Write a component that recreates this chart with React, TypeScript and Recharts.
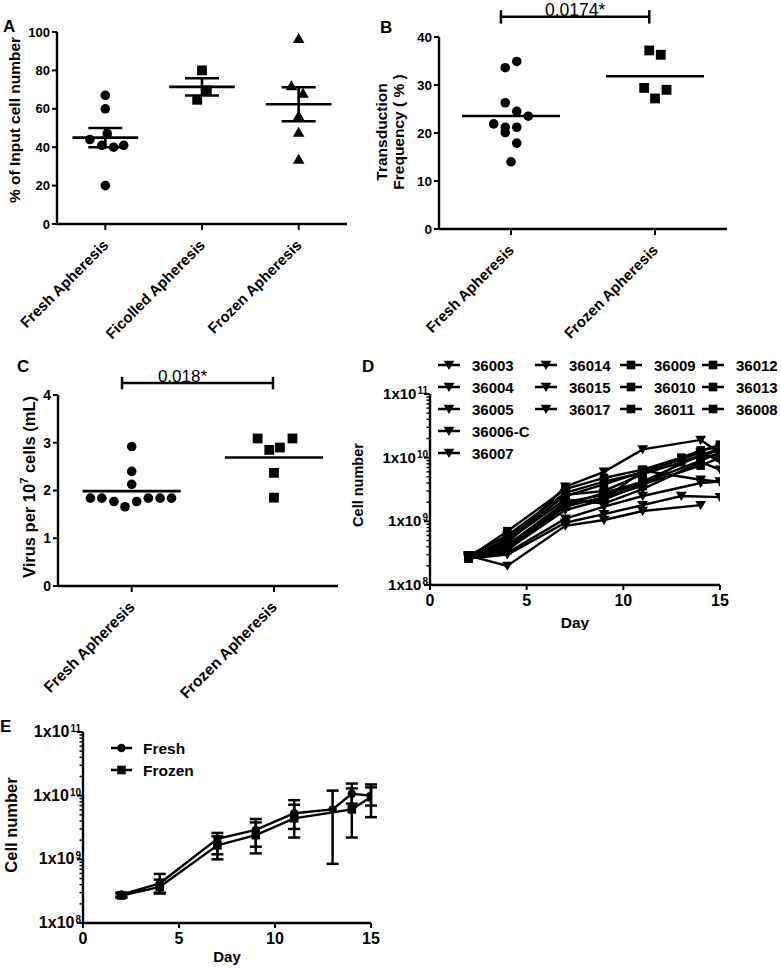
import React from 'react';
import {
  ScatterChart,
  Scatter,
  LineChart,
  Line,
  XAxis,
  YAxis,
  ReferenceLine,
  ErrorBar,
  Legend,
} from 'recharts';

const FONT = '"Liberation Sans", Arial, Helvetica, sans-serif';
const INK = '#000000';

// ---------------- Panel A ----------------
const aCategories = ['Fresh Apheresis', 'Ficolled Apheresis', 'Frozen Apheresis'];
const aFresh = [67, 60, 47, 44, 41, 40, 41, 20];
const aFreshJitter = [0, 0, 0.02, -0.16, -0.035, 0.086, 0.19, 0];
const aFicolled = [80, 69.6, 64.7];
const aFicolledJitter = [0, 0.05, -0.05];
const aFrozen = [96.5, 72, 68, 56.3, 47.7, 33.7];
const aFrozenJitter = [0, -0.075, 0.045, 0, 0, 0];
const aTicks = [0, 20, 40, 60, 80, 100];

// ---------------- Panel B ----------------
const bCategories = ['Fresh Apheresis', 'Frozen Apheresis'];
const bFresh = [34.9, 33.6, 26.3, 24.5, 23.5, 21.9, 21.2, 21.2, 20.1, 17.9, 14.0];
const bFreshJitter = [0.04, -0.04, -0.04, 0.04, 0.12, -0.12, -0.04, 0.04, -0.04, 0.04, 0];
const bFrozen = [37.2, 36.3, 29.4, 29.0, 27.2];
const bFrozenJitter = [-0.04, 0.04, -0.075, 0.08, 0];
const bTicks = [0, 10, 20, 30, 40];
const bPValue = '0.0174*';

// ---------------- Panel C ----------------
const cCategories = ['Fresh Apheresis', 'Frozen Apheresis'];
const cFresh = [2.92, 2.4, 2.13, 1.84, 1.84, 1.77, 1.66, 1.77, 1.84, 1.84, 1.84];
const cFreshJitter = [0, 0, 0, -0.29, -0.21, -0.125, -0.047, 0.035, 0.117, 0.2, 0.28];
const cFrozen = [3.09, 3.09, 2.85, 2.9, 2.37, 1.85];
const cFrozenJitter = [-0.115, 0.13, -0.033, 0.042, 0, 0];
const cTicks = [0, 1, 2, 3, 4];
const cPValue = '0.018*';

// ---------------- Panel D ----------------
const dDays = [2, 4, 7, 9, 11, 13, 14, 15];
const d36003 = [2.8e8, 4.5e8, 3.5e9, 6.0e9, 1.35e10, null, 1.9e10, 1.2e10];
const d36004 = [2.9e8, 2.0e8, 8.5e8, 1.05e9, 1.45e9, null, 1.8e9, null];
const d36005 = [2.6e8, 3.0e8, 9.5e8, 1.3e9, 1.8e9, 2.5e9, null, 2.4e9];
const d36006C = [2.7e8, 3.2e8, 1.1e9, 1.7e9, 2.5e9, null, 4.0e9, 4.2e9];
const d36007 = [2.8e8, 3.6e8, 1.5e9, 2.2e9, 6.3e9, null, 4.5e9, 4.2e9];
const d36014 = [2.6e8, 4.0e8, 1.8e9, 2.8e9, 4.2e9, null, 1.1e10, 1.3e10];
const d36015 = [2.7e8, 5.0e8, 2.2e9, 1.9e9, 3.2e9, null, 8.5e9, 6.5e9];
const d36017 = [2.9e8, 6.0e8, 2.8e9, 4.2e9, 5.8e9, null, 1.2e10, 9.0e9];
const d36009 = [2.7e8, 7.0e8, 3.2e9, 4.8e9, 6.5e9, 1.0e10, null, 1.6e10];
const d36010 = [2.6e8, 5.5e8, 2.5e9, 3.8e9, 6.0e9, null, 1.3e10, 1.5e10];
const d36011 = [2.8e8, 4.2e8, 2.0e9, 2.6e9, 4.0e9, null, 9.0e9, 1.2e10];
const d36012 = [2.6e8, 3.5e8, 1.7e9, 2.4e9, 3.6e9, 8.5e9, null, 1.4e10];
const d36013 = [2.9e8, 4.8e8, 2.6e9, 3.0e9, 5.5e9, null, 1.05e10, 1.1e10];
const d36008 = [2.7e8, 3.8e8, 1.9e9, 2.2e9, 3.8e9, null, 7.5e9, 1.0e10];
const dTriangleSeries = ['36003', '36004', '36005', '36006-C', '36007', '36014', '36015', '36017'];
const dSquareSeries = ['36009', '36010', '36011', '36012', '36013', '36008'];
const dSeriesValues: Record<string, (number | null)[]> = {
  '36003': d36003, '36004': d36004, '36005': d36005, '36006-C': d36006C, '36007': d36007,
  '36014': d36014, '36015': d36015, '36017': d36017, '36009': d36009, '36010': d36010,
  '36011': d36011, '36012': d36012, '36013': d36013, '36008': d36008,
};
const dLegendColumns = [
  ['36003', '36004', '36005', '36006-C', '36007'],
  ['36014', '36015', '36017'],
  ['36009', '36010', '36011'],
  ['36012', '36013', '36008'],
];

// ---------------- Panel E ----------------
const eDays = [2, 4, 7, 9, 11, 13, 14, 15];
const eFresh = [2.8e8, 4.2e8, 2.1e9, 2.9e9, 5.3e9, 6.1e9, 1.07e10, 1.0e10];
const eFreshLow = [2.6e8, 3.0e8, 1.2e9, 1.58e9, 3.0e9, 8.5e8, 7.5e9, 7.0e9];
const eFreshHigh = [3.0e8, 5.9e8, 2.6e9, 4.3e9, 8.5e9, 1.2e10, 1.55e10, 1.5e10];
const eFrozen = [2.7e8, 3.7e8, 1.66e9, 2.4e9, 4.4e9, null, 6.1e9, 9.5e9];
const eFrozenLow = [2.5e8, 2.9e8, 1.0e9, 1.24e9, 2.2e9, null, 2.2e9, 4.6e9];
const eFrozenHigh = [2.9e8, 4.8e8, 2.3e9, 3.8e9, 7.2e9, null, 1.3e10, 1.35e10];
const eSeriesNames = ['Fresh', 'Frozen'];

// shared axes values
const dayTicks = [0, 5, 10, 15];
const logMajor = [1e8, 1e9, 1e10, 1e11];
const logTicks = logMajor.flatMap((d, i) =>
  i < logMajor.length - 1 ? [1, 2, 3, 4, 5, 6, 7, 8, 9].map((m) => m * d) : [d]
);

// ---------------- helpers ----------------
const mean = (v: number[]) => v.reduce((s, x) => s + x, 0) / v.length;
const sem = (v: number[]) => {
  const m = mean(v);
  const sd = Math.sqrt(v.reduce((s, x) => s + (x - m) ** 2, 0) / (v.length - 1));
  return sd / Math.sqrt(v.length);
};
const jittered = (vals: number[], jit: number[], pos: number) =>
  vals.map((y, i) => ({ x: pos + jit[i], y }));

const AXIS_LINE = { stroke: INK, strokeWidth: 2.4 };
const TICK_LINE = { stroke: INK, strokeWidth: 2 };
const tickText = (size: number) => ({ fill: INK, fontSize: size, fontWeight: 'bold', fontFamily: FONT });

const DotShape = (p: any) => <circle cx={p.cx} cy={p.cy} r={4.8} fill={INK} />;
const SquareShape = (p: any) => (
  <rect x={p.cx - 4.9} y={p.cy - 4.9} width={9.8} height={9.8} fill={INK} />
);
const TriUpShape = (p: any) => (
  <path d={`M${p.cx},${p.cy - 5.6}L${p.cx + 5.8},${p.cy + 4.4}L${p.cx - 5.8},${p.cy + 4.4}Z`} fill={INK} />
);
const TriDownShape = (p: any) => (
  <path d={`M${p.cx},${p.cy + 5}L${p.cx + 5.4},${p.cy - 4.2}L${p.cx - 5.4},${p.cy - 4.2}Z`} fill={INK} />
);
const SmallSquare = (p: any) => (
  <rect x={p.cx - 4.3} y={p.cy - 4.3} width={8.6} height={8.6} fill={INK} />
);
const SmallDot = (p: any) => <circle cx={p.cx} cy={p.cy} r={4.2} fill={INK} />;

function vTitle(parts: { content: React.ReactNode; x: number }[], fontSize: number, dy: number) {
  return (props: any) => {
    const vb = props.viewBox || { x: 0, y: 0, width: 0, height: 0 };
    const cy = vb.y + vb.height / 2 + dy;
    return (
      <g>
        {parts.map((p, i) => {
          const x = vb.x + p.x;
          return (
            <text key={i} x={x} y={cy} transform={`rotate(-90 ${x} ${cy})`} textAnchor="middle"
              fontSize={fontSize} fontWeight="bold" fontFamily={FONT} fill={INK}>
              {p.content}
            </text>
          );
        })}
      </g>
    );
  };
}

function hTitle(text: string, dy: number, fontSize: number) {
  return (props: any) => {
    const vb = props.viewBox || { x: 0, y: 0, width: 0, height: 0 };
    return (
      <text x={vb.x + vb.width / 2} y={vb.y + dy} textAnchor="middle" fontSize={fontSize}
        fontWeight="bold" fontFamily={FONT} fill={INK}>
        {text}
      </text>
    );
  };
}

function categoryTick(labels: string[], fontSize: number) {
  return (props: any) => {
    const { x, y, payload } = props;
    const label = labels[Math.round(Number(payload.value)) - 1] ?? '';
    return (
      <g transform={`translate(${x + 4},${y + 14}) rotate(-45)`}>
        <text x={0} y={0} textAnchor="end" fontSize={fontSize} fontWeight="bold" fontFamily={FONT} fill={INK}>
          {label}
        </text>
      </g>
    );
  };
}

function logTick(fontSize: number, supSize: number) {
  return (props: any) => {
    const { x, y, payload } = props;
    const v = Number(payload.value);
    const e = Math.log10(v);
    const major = Math.abs(e - Math.round(e)) < 1e-6;
    return (
      <g>
        <line x1={x} x2={x - (major ? 6 : 3.5)} y1={y} y2={y} stroke={INK} strokeWidth={major ? 2 : 1.5} />
        {major && (
          <text x={x - 2} y={y + 5} textAnchor="end" fontSize={fontSize} fontWeight="bold" fontFamily={FONT} fill={INK}>
            1x10
            <tspan dx={1} dy={-5} fontSize={supSize}>{Math.round(e)}</tspan>
          </text>
        )}
      </g>
    );
  };
}

function meanLines(vals: number[], pos: number, half: number, withSem: boolean, cap: number, keyBase: string) {
  const m = mean(vals);
  const out = [
    <ReferenceLine key={`${keyBase}-m`} segment={[{ x: pos - half, y: m }, { x: pos + half, y: m }]}
      stroke={INK} strokeWidth={2.6} ifOverflow="visible" />,
  ];
  if (withSem) {
    const s = sem(vals);
    out.push(
      <ReferenceLine key={`${keyBase}-v`} segment={[{ x: pos, y: m - s }, { x: pos, y: m + s }]}
        stroke={INK} strokeWidth={2.6} ifOverflow="visible" />,
      <ReferenceLine key={`${keyBase}-t`} segment={[{ x: pos - cap, y: m + s }, { x: pos + cap, y: m + s }]}
        stroke={INK} strokeWidth={2.6} ifOverflow="visible" />,
      <ReferenceLine key={`${keyBase}-b`} segment={[{ x: pos - cap, y: m - s }, { x: pos + cap, y: m - s }]}
        stroke={INK} strokeWidth={2.6} ifOverflow="visible" />
    );
  }
  return out;
}

function sigBar(x1: number, x2: number, y: number, capH: number, text: string, fontSize: number, dx: number, keyBase: string) {
  return [
    <ReferenceLine key={`${keyBase}-h`} segment={[{ x: x1, y }, { x: x2, y }]} stroke={INK} strokeWidth={2.5}
      ifOverflow="visible"
      label={{ value: text, position: 'top', offset: 1, dx, fill: INK, fontSize, fontFamily: FONT }} />,
    <ReferenceLine key={`${keyBase}-l`} segment={[{ x: x1, y: y - capH }, { x: x1, y: y + capH }]}
      stroke={INK} strokeWidth={2.5} ifOverflow="visible" />,
    <ReferenceLine key={`${keyBase}-r`} segment={[{ x: x2, y: y - capH }, { x: x2, y: y + capH }]}
      stroke={INK} strokeWidth={2.5} ifOverflow="visible" />,
  ];
}

const seriesPoints = (vals: (number | null)[]) =>
  dDays.map((x, i) => ({ x, y: vals[i] })).filter((p) => p.y != null);

const eSeriesData = (vals: (number | null)[], low: (number | null)[], high: (number | null)[]) =>
  eDays
    .map((x, i) => {
      const v = vals[i];
      if (v == null) return null;
      return { x, y: v, err: [v - (low[i] as number), (high[i] as number) - v] };
    })
    .filter((p) => p != null);

const dLegendColX = [0, 97, 182, 264];
const renderDLegend = () => (
  <svg width={340} height={112} style={{ display: 'block', overflow: 'visible' }}>
    {dLegendColumns.map((col, ci) =>
      col.map((name, ri) => {
        const x0 = dLegendColX[ci];
        const y = 11 + ri * 22;
        const Shape = dSquareSeries.includes(name) ? SmallSquare : TriDownShape;
        return (
          <g key={name}>
            <line x1={x0} x2={x0 + 22} y1={y} y2={y} stroke={INK} strokeWidth={2.5} />
            <Shape cx={x0 + 11} cy={y} />
            <text x={x0 + 34} y={y + 5.5} fontSize={15} fontWeight="bold" fontFamily={FONT} fill={INK}>
              {name}
            </text>
          </g>
        );
      })
    )}
  </svg>
);

const renderELegend = () => (
  <svg width={120} height={50} style={{ display: 'block', overflow: 'visible' }}>
    {eSeriesNames.map((name, ri) => {
      const y = 11 + ri * 22;
      const Shape = ri === 0 ? SmallDot : SmallSquare;
      return (
        <g key={name}>
          <line x1={0} x2={21} y1={y} y2={y} stroke={INK} strokeWidth={2.5} />
          <Shape cx={10.5} cy={y} />
          <text x={32} y={y + 5.5} fontSize={15.5} fontWeight="bold" fontFamily={FONT} fill={INK}>
            {name}
          </text>
        </g>
      );
    })}
  </svg>
);

function PanelA() {
  return (
    <ScatterChart width={390} height={348} margin={{ top: 32, right: 43, bottom: 0, left: 0 }}>
      <XAxis type="number" dataKey="x" domain={[0.5, 3.5]} ticks={[1, 2, 3]} interval={0}
        axisLine={AXIS_LINE} tickLine={TICK_LINE} tickSize={6} tickMargin={2} height={124}
        tick={categoryTick(aCategories, 15)} />
      <YAxis type="number" dataKey="y" domain={[0, 100]} ticks={aTicks} interval={0} width={57}
        axisLine={AXIS_LINE} tickLine={TICK_LINE} tickSize={5} tickMargin={2} tick={tickText(13)}
        label={vTitle([{ content: '% of Input cell number', x: 19.5 }], 15.5, -8)} />
      {meanLines(aFresh, 1, 0.34, true, 0.176, 'a1')}
      {meanLines(aFicolled, 2, 0.34, true, 0.176, 'a2')}
      {meanLines(aFrozen, 3, 0.34, true, 0.176, 'a3')}
      <Scatter data={jittered(aFresh, aFreshJitter, 1)} shape={DotShape} isAnimationActive={false} />
      <Scatter data={jittered(aFicolled, aFicolledJitter, 2)} shape={SquareShape} isAnimationActive={false} />
      <Scatter data={jittered(aFrozen, aFrozenJitter, 3)} shape={TriUpShape} isAnimationActive={false} />
    </ScatterChart>
  );
}

function PanelB() {
  return (
    <ScatterChart width={416} height={362} margin={{ top: 37, right: 54, bottom: 0, left: 0 }}>
      <XAxis type="number" dataKey="x" domain={[0.5, 2.5]} ticks={[1, 2]} interval={0}
        axisLine={AXIS_LINE} tickLine={TICK_LINE} tickSize={6} tickMargin={2} height={133}
        tick={categoryTick(bCategories, 15)} />
      <YAxis type="number" dataKey="y" domain={[0, 40]} ticks={bTicks} interval={0} width={74}
        axisLine={AXIS_LINE} tickLine={TICK_LINE} tickSize={5} tickMargin={2} tick={tickText(13.5)}
        label={vTitle([{ content: 'Transduction', x: 22 }, { content: 'Frequency ( % )', x: 39 }], 15.5, -1)} />
      {sigBar(0.93, 1.96, 44.2, 1.4, bPValue, 17.5, 0, 'bs')}
      {meanLines(bFresh, 1, 0.34, false, 0, 'b1')}
      {meanLines(bFrozen, 2, 0.34, false, 0, 'b2')}
      <Scatter data={jittered(bFresh, bFreshJitter, 1)} shape={DotShape} isAnimationActive={false} />
      <Scatter data={jittered(bFrozen, bFrozenJitter, 2)} shape={SquareShape} isAnimationActive={false} />
    </ScatterChart>
  );
}

function PanelC() {
  const cLabel = (props: any) => {
    const vb = props.viewBox || { x: 0, y: 0, width: 0, height: 0 };
    const x = vb.x + 35;
    const cy = vb.y + vb.height / 2 - 3.5;
    return (
      <text x={x} y={cy} transform={`rotate(-90 ${x} ${cy})`} textAnchor="middle" fontSize={16.5}
        fontWeight="bold" fontFamily={FONT} fill={INK}>
        Virus per 10<tspan dy={-7} fontSize={11}>7</tspan>
        <tspan dy={7}> cells (mL)</tspan>
      </text>
    );
  };
  return (
    <ScatterChart width={380} height={405} margin={{ top: 95, right: 42, bottom: 0, left: 0 }}>
      <XAxis type="number" dataKey="x" domain={[0.482, 2.45]} ticks={[1, 2]} interval={0}
        axisLine={AXIS_LINE} tickLine={TICK_LINE} tickSize={6} tickMargin={2} height={119}
        tick={categoryTick(cCategories, 15.5)} />
      <YAxis type="number" dataKey="y" domain={[0, 4]} ticks={cTicks} interval={0} width={58}
        axisLine={AXIS_LINE} tickLine={TICK_LINE} tickSize={5} tickMargin={2} tick={tickText(14)}
        label={cLabel} />
      {sigBar(0.932, 1.993, 4.25, 0.13, cPValue, 17, -15, 'cs')}
      {meanLines(cFresh, 1, 0.345, false, 0, 'c1')}
      {meanLines(cFrozen, 2, 0.345, false, 0, 'c2')}
      <Scatter data={jittered(cFresh, cFreshJitter, 1)} shape={DotShape} isAnimationActive={false} />
      <Scatter data={jittered(cFrozen, cFrozenJitter, 2)} shape={SquareShape} isAnimationActive={false} />
    </ScatterChart>
  );
}

function PanelD() {
  const names = [...dTriangleSeries, ...dSquareSeries];
  return (
    <LineChart width={441} height={290} margin={{ top: 54, right: 61, bottom: 0, left: 0 }}>
      <XAxis type="number" dataKey="x" domain={[0, 15]} ticks={dayTicks} interval={0} allowDataOverflow
        axisLine={AXIS_LINE} tickLine={TICK_LINE} tickSize={5} tickMargin={5} height={45}
        tick={tickText(16)} label={hTitle('Day', 43, 15.5)} />
      <YAxis type="number" scale="log" domain={[1e8, 1e11]} ticks={logTicks} interval={0} allowDataOverflow
        width={90} axisLine={AXIS_LINE} tickLine={false} tickSize={0} tickMargin={0}
        tick={logTick(15, 10)}
        label={vTitle([{ content: 'Cell number', x: 23 }], 14.5, -4.5)} />
      {names.map((name) => (
        <Line key={name} name={name} data={seriesPoints(dSeriesValues[name])} dataKey="y" stroke={INK}
          strokeWidth={2.4} isAnimationActive={false}
          dot={(p: any) => {
            const S = dSquareSeries.includes(name) ? SmallSquare : TriDownShape;
            return <S key={`${name}-${p.index}`} cx={p.cx} cy={p.cy} />;
          }} />
      ))}
      <Legend layout="horizontal" verticalAlign="middle" align="center" content={renderDLegend}
        wrapperStyle={{ left: 98, top: 14, width: 340, height: 112 }} />
    </LineChart>
  );
}

function PanelE() {
  const fresh = eSeriesData(eFresh, eFreshLow, eFreshHigh);
  const frozen = eSeriesData(eFrozen, eFrozenLow, eFrozenHigh);
  return (
    <LineChart width={390} height={279} margin={{ top: 42, right: 19, bottom: 0, left: 0 }}>
      <XAxis type="number" dataKey="x" domain={[0, 15]} ticks={dayTicks} interval={0} allowDataOverflow
        axisLine={AXIS_LINE} tickLine={TICK_LINE} tickSize={5} tickMargin={5} height={46}
        tick={tickText(16)} label={hTitle('Day', 39, 15)} />
      <YAxis type="number" scale="log" domain={[1e8, 1e11]} ticks={logTicks} interval={0} allowDataOverflow
        width={83} axisLine={AXIS_LINE} tickLine={false} tickSize={0} tickMargin={0}
        tick={logTick(16, 10)}
        label={vTitle([{ content: 'Cell number', x: 17 }], 16.5, -2.5)} />
      <Line name="Frozen" data={frozen} dataKey="y" stroke={INK} strokeWidth={2.4} isAnimationActive={false}
        dot={(p: any) => <SmallSquare key={`fz-${p.index}`} cx={p.cx} cy={p.cy} />}>
        <ErrorBar dataKey="err" direction="y" width={6} stroke={INK} strokeWidth={2.5} />
      </Line>
      <Line name="Fresh" data={fresh} dataKey="y" stroke={INK} strokeWidth={2.4} isAnimationActive={false}
        dot={(p: any) => <SmallDot key={`fr-${p.index}`} cx={p.cx} cy={p.cy} />}>
        <ErrorBar dataKey="err" direction="y" width={6} stroke={INK} strokeWidth={2.5} />
      </Line>
      <Legend layout="horizontal" verticalAlign="middle" align="center" content={renderELegend}
        wrapperStyle={{ left: 111, top: 47, width: 120, height: 50 }} />
    </LineChart>
  );
}

export default function App() {
  const letter = { fontSize: 17, fontWeight: 'bold' as const, fontFamily: FONT, fill: INK };
  return (
    <div style={{ position: 'absolute', left: 0, top: 0, width: 781, height: 969, background: '#ffffff', overflow: 'hidden' }}>
      <div style={{ position: 'absolute', left: 0, top: 300 }}><PanelC /></div>
      <div style={{ position: 'absolute', left: 340, top: 340 }}><PanelD /></div>
      <div style={{ position: 'absolute', left: 0, top: 690 }}><PanelE /></div>
      <div style={{ position: 'absolute', left: 0, top: 0 }}><PanelA /></div>
      <div style={{ position: 'absolute', left: 365, top: 0 }}><PanelB /></div>
      <svg width={781} height={969} style={{ position: 'absolute', left: 0, top: 0, pointerEvents: 'none' }}>
        <text x={3} y={32} {...letter}>A</text>
        <text x={380} y={33} {...letter}>B</text>
        <text x={17} y={372} {...letter}>C</text>
        <text x={362} y={372} {...letter}>D</text>
        <text x={0} y={732} {...letter}>E</text>
      </svg>
    </div>
  );
}
